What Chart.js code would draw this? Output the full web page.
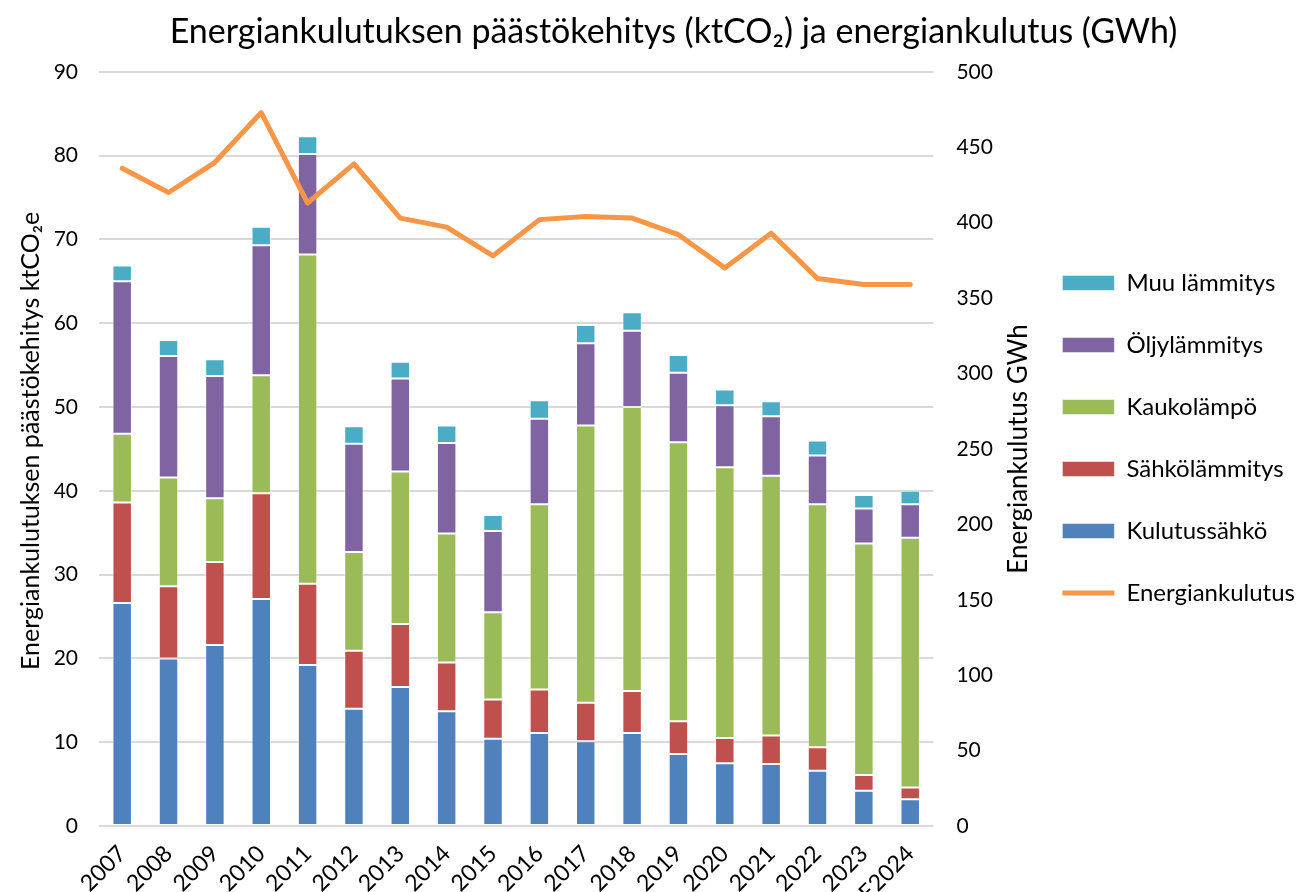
<!DOCTYPE html>
<html>
<head>
<meta charset="utf-8">
<script src="https://cdn.jsdelivr.net/npm/chart.js@4.4.1/dist/chart.umd.min.js"></script>
<style>
    html, body { margin: 0; padding: 0; background: #fff; }
    #wrap { width: 1299px; height: 892px; }
</style>
</head>
<body>
<div id="wrap"><canvas id="chart"></canvas></div>
<script>
// DATA
const years = ["2007", "2008", "2009", "2010", "2011", "2012", "2013", "2014", "2015",
    "2016", "2017", "2018", "2019", "2020", "2021", "2022", "2023", "E2024"];
const kulutussahko = [26.6, 20.0, 21.6, 27.1, 19.2, 14.0, 16.6, 13.7, 10.4, 11.1, 10.1, 11.1, 8.6, 7.5, 7.4, 6.6, 4.2, 3.2];
const sahkolammitys = [12.0, 8.6, 9.9, 12.6, 9.7, 6.9, 7.5, 5.8, 4.7, 5.2, 4.6, 5.0, 3.9, 3.0, 3.4, 2.8, 1.9, 1.4];
const kaukolampo = [8.2, 13.0, 7.6, 14.1, 39.3, 11.8, 18.2, 15.4, 10.4, 22.1, 33.1, 33.9, 33.3, 32.3, 31.0, 29.0, 27.6, 29.8];
const oljylammitys = [18.2, 14.5, 14.6, 15.5, 12.0, 12.9, 11.1, 10.8, 9.7, 10.2, 9.8, 9.1, 8.3, 7.4, 7.1, 5.8, 4.2, 4.0];
const muuLammitys = [1.9, 1.9, 2.0, 2.2, 2.1, 2.1, 2.0, 2.1, 1.9, 2.2, 2.2, 2.2, 2.1, 1.9, 1.8, 1.8, 1.6, 1.6];
const energiankulutus = [436, 420, 440, 473, 413, 439, 403, 397, 378, 402, 404, 403, 392, 370, 393, 363, 359, 359];

const leftTicks = [0, 10, 20, 30, 40, 50, 60, 70, 80, 90];
const rightTicks = [0, 50, 100, 150, 200, 250, 300, 350, 400, 450, 500];

const leftTitle = "Energiankulutuksen päästökehitys ktCO₂e";
const rightTitle = "Energiankulutus GWh";

const FONT = "Lato, 'Open Sans', sans-serif";
Chart.defaults.font.family = FONT;
Chart.defaults.color = "#000";

function barSet(label, data, color) {
    return {
        type: "bar",
        label: label,
        data: data,
        backgroundColor: color,
        borderColor: "rgba(255,255,255,0.5)",
        borderWidth: 1,
        borderSkipped: false,
        pointStyle: "rect",
        yAxisID: "y",
        order: 1,
        barPercentage: 0.42,
        categoryPercentage: 1
    };
}

// axis titles drawn by hand so the right one reads bottom to top like the original
function drawVertical(ctx, text, x, y, size) {
    ctx.save();
    ctx.font = size + "px " + FONT;
    ctx.fillStyle = "#000";
    ctx.textAlign = "center";
    ctx.textBaseline = "middle";
    ctx.translate(x, y);
    ctx.rotate(-Math.PI / 2);
    ctx.fillText(text, 0, 0);
    ctx.restore();
}

const axisTitlePlugin = {
    id: "axisTitles",
    afterLayout(chart) {
        // nudge the legend column up a little
        chart.legend.top -= 8;
        chart.legend.bottom -= 8;
    },
    afterDraw(chart) {
        const area = chart.chartArea;
        const mid = (area.top + area.bottom) / 2;
        drawVertical(chart.ctx, leftTitle, 31, mid - 8, 25);
        drawVertical(chart.ctx, rightTitle, chart.scales.y1.left + 85, mid, 26);
    }
};

const legendRank = [4, 3, 2, 1, 0, 5];

new Chart(document.getElementById("chart"), {
    data: {
        labels: years,
        datasets: [
            barSet("Kulutussähkö", kulutussahko, "#4F81BD"),
            barSet("Sähkölämmitys", sahkolammitys, "#C0504D"),
            barSet("Kaukolämpö", kaukolampo, "#9BBB59"),
            barSet("Öljylämmitys", oljylammitys, "#8064A2"),
            barSet("Muu lämmitys", muuLammitys, "#4BACC6"),
            {
                type: "line",
                label: "Energiankulutus",
                data: energiankulutus,
                borderColor: "#F79646",
                backgroundColor: "#F79646",
                borderWidth: 5,
                borderJoinStyle: "round",
                borderCapStyle: "round",
                pointRadius: 0,
                pointStyle: "line",
                tension: 0,
                yAxisID: "y1",
                order: 0
            }
        ]
    },
    options: {
        responsive: true,
        maintainAspectRatio: false,
        animation: false,
        layout: { padding: { left: 42, right: -6, top: 0, bottom: 0 } },
        plugins: {
            title: {
                display: true,
                text: "Energiankulutuksen päästökehitys (ktCO₂) ja energiankulutus (GWh)",
                font: { size: 34, weight: "normal" },
                color: "#000",
                padding: { top: 12, bottom: 19 }
            },
            legend: {
                position: "right",
                maxWidth: 320,
                labels: {
                    usePointStyle: true,
                    pointStyleWidth: 52,
                    boxHeight: 15,
                    padding: 38,
                    font: { size: 24 },
                    color: "#000",
                    sort: (a, b) => legendRank[a.datasetIndex] - legendRank[b.datasetIndex]
                }
            },
            tooltip: { enabled: false }
        },
        scales: {
            x: {
                stacked: true,
                grid: { display: false },
                border: { display: false },
                ticks: { font: { size: 23 }, color: "#000", maxRotation: 45, minRotation: 45, autoSkip: false, padding: 6 },
                afterFit(scale) { scale.height = 66; }
            },
            y: {
                stacked: true,
                position: "left",
                min: 0,
                max: 90,
                afterBuildTicks(scale) { scale.ticks = leftTicks.map(v => ({ value: v })); },
                ticks: { font: { size: 21 }, color: "#000", padding: 21 },
                grid: { color: "#d9d9d9", lineWidth: 2, drawTicks: false },
                border: { display: false },
                afterFit(scale) { scale.width = 57; }
            },
            y1: {
                position: "right",
                min: 0,
                max: 500,
                afterBuildTicks(scale) { scale.ticks = rightTicks.map(v => ({ value: v })); },
                ticks: { font: { size: 21 }, color: "#000", padding: 23 },
                grid: { display: false, drawTicks: false },
                border: { display: false },
                afterFit(scale) { scale.width = 91; }
            }
        }
    },
    plugins: [axisTitlePlugin]
});
</script>
</body>
</html>
